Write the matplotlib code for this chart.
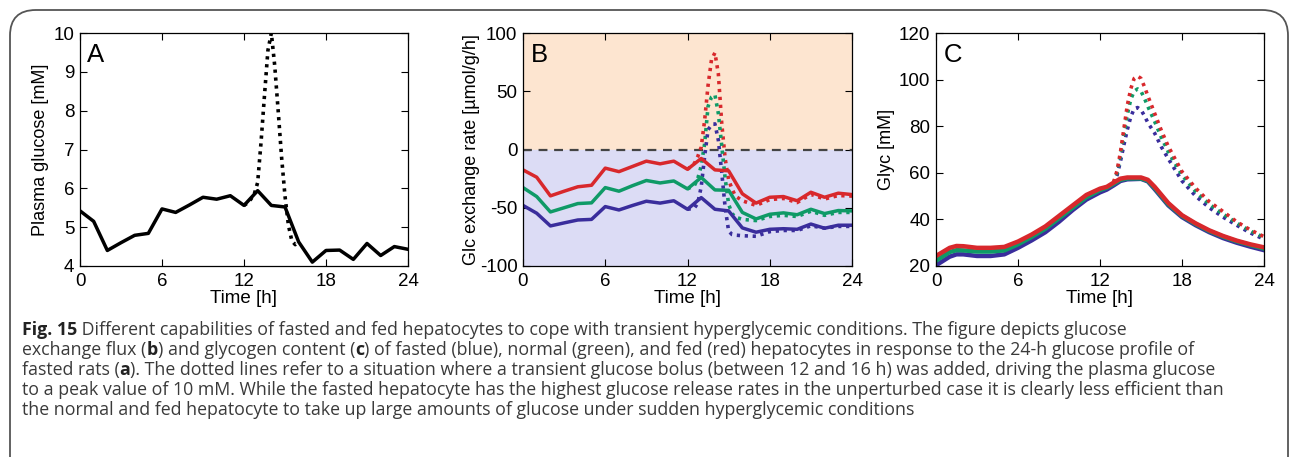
import numpy as np
import matplotlib.pyplot as plt
from matplotlib.patches import FancyBboxPatch

# hourly time grid
hours = np.arange(0, 25)

# A: plasma glucose [mM], basal profile and bolus
glc_basal = [5.42, 5.15, 4.40, 4.60, 4.79, 4.84, 5.47, 5.38, 5.57, 5.77, 5.72, 5.81, 5.56,
             5.94, 5.56, 5.52, 4.62, 4.10, 4.40, 4.41, 4.17, 4.58, 4.27, 4.50, 4.43]
bolus_t = [12.0, 12.25, 12.5, 12.75, 13.0, 13.25, 13.5, 13.75, 14.0, 14.25, 14.5, 14.75,
           15.0, 15.25, 15.5, 15.75, 16.0]
glc_bolus = [5.56, 5.62, 5.72, 5.85, 6.15, 7.20, 8.40, 9.55, 10.0, 9.15, 8.00, 6.80,
             5.80, 5.05, 4.65, 4.55, 4.62]

# B: glucose exchange rate [umol/g/h]
flux_fed = [-17.5, -23.8, -39.8, -35.8, -32.0, -30.7, -16.0, -19.0, -14.5, -10.0, -12.3, -10.0,
            -17.0, -7.7, -17.5, -18.3, -38.0, -46.0, -41.0, -40.4, -44.0, -36.7, -41.0, -37.5, -38.7]
flux_normal = [-32.7, -40.4, -53.6, -50.0, -46.4, -45.8, -32.7, -35.8, -31.0, -26.6, -28.7, -27.0,
               -33.8, -24.0, -34.7, -35.0, -54.0, -59.6, -55.6, -54.4, -56.0, -51.3, -55.0, -52.4, -52.7]
flux_fasted = [-48.0, -54.7, -65.6, -63.0, -60.5, -60.0, -49.0, -51.9, -48.0, -44.4, -46.0, -44.0,
               -51.3, -41.3, -51.3, -52.7, -67.3, -71.0, -68.5, -68.0, -68.5, -64.0, -67.6, -65.0, -65.0]

pert_t = [12.0, 12.5, 12.75, 13.0, 13.25, 13.5, 13.75, 14.0, 14.25, 14.5, 14.75, 15.0, 15.25,
          15.5, 16.0, 17.0, 18.0, 19.0, 20.0, 21.0, 22.0, 23.0, 24.0]
flux_fed_bolus = [-17.0, -12.0, -6.0, 2.0, 25.0, 55.0, 77.0, 83.0, 65.0, 22.0, -8.0, -26.0, -34.0,
                  -40.0, -44.0, -48.0, -43.0, -42.0, -45.5, -38.5, -42.5, -39.5, -40.0]
flux_normal_bolus = [-33.8, -31.0, -25.0, -14.0, 5.0, 37.0, 45.0, 47.0, 31.0, 3.0, -25.0, -47.0, -55.0,
                     -58.0, -60.0, -61.0, -57.5, -56.5, -57.5, -53.0, -56.5, -54.0, -54.0]
flux_fasted_bolus = [-51.3, -50.4, -46.0, -32.0, -6.0, 17.0, 21.0, 22.0, 8.0, -20.0, -50.0, -70.0, -73.0,
                     -73.5, -74.0, -74.5, -70.5, -69.5, -69.5, -65.5, -67.5, -66.0, -66.0]

# C: glycogen [mM]
glyc_t = [0, 1, 1.5, 2, 3, 4, 5, 6, 7, 8, 9, 10, 11, 12, 12.5, 13, 13.5, 14, 15, 15.5,
          16, 17, 18, 19, 20, 21, 22, 23, 24]
glyc_fed = [24.3, 27.8, 28.6, 28.5, 27.8, 27.8, 28.2, 30.5, 33.5, 37.0, 41.5, 46.0, 50.5, 53.2,
            54.0, 55.8, 57.5, 58.0, 58.0, 57.0, 54.0, 47.0, 41.8, 38.3, 35.3, 32.9, 30.9, 29.3, 28.0]
glyc_normal = [22.3, 26.0, 26.8, 26.7, 26.2, 26.2, 26.7, 29.3, 32.5, 36.0, 40.5, 45.0, 49.5, 52.6,
               53.6, 55.3, 57.0, 57.6, 57.6, 56.6, 53.5, 46.5, 41.5, 38.0, 35.0, 32.6, 30.6, 29.0, 27.5]
glyc_fasted = [20.3, 24.0, 25.0, 25.0, 24.3, 24.3, 25.0, 27.8, 31.0, 34.5, 39.0, 44.0, 48.5, 51.6,
               52.8, 54.6, 56.5, 57.2, 57.4, 56.3, 53.0, 46.0, 41.0, 37.5, 34.5, 32.0, 30.0, 28.3, 26.8]

glyc_pert_t = [13.0, 13.25, 13.5, 13.75, 14.0, 14.25, 14.5, 14.75, 15.0, 15.25, 15.5, 16.0, 16.5,
               17.0, 18.0, 19.0, 20.0, 21.0, 22.0, 23.0, 24.0]
glyc_fed_bolus = [56.0, 61.0, 69.0, 79.0, 89.0, 96.0, 100.5, 101.5, 100.5, 97.0, 93.0, 85.5, 78.0,
                  71.3, 60.5, 53.4, 47.6, 43.4, 39.0, 35.5, 32.6]
glyc_normal_bolus = [55.8, 60.0, 67.5, 76.5, 85.0, 91.5, 95.0, 96.0, 95.0, 92.0, 88.5, 82.0, 75.0,
                     69.0, 59.0, 52.0, 46.5, 42.3, 38.5, 35.0, 32.3]
glyc_fasted_bolus = [55.5, 59.0, 65.0, 72.0, 78.5, 84.0, 87.5, 88.0, 87.0, 84.5, 81.5, 77.0, 71.0,
                     66.0, 56.5, 50.0, 45.0, 41.0, 37.5, 34.2, 31.5]

red = '#d8282c'
green = '#0f9a67'
blue = '#3a2d9c'
dots = (0.9, 1.3)

plt.rcParams['font.family'] = ['Liberation Sans', 'DejaVu Sans']
plt.rcParams['font.size'] = 13
plt.rcParams['axes.unicode_minus'] = False

W, H = 1293, 457
fig = plt.figure(figsize=(W / 100, H / 100), dpi=100)

# rounded frame around the figure
frame = FancyBboxPatch((10 / W, -0.2), 1278 / W, 1.2 - 10 / H,
                       boxstyle='round,pad=0,rounding_size=0.02', transform=fig.transFigure,
                       facecolor='none', edgecolor='#555555', linewidth=1.3, mutation_aspect=2.8)
fig.patches.append(frame)


def make_axes(left, right):
    ax = fig.add_axes([left / W, 1 - 266 / H, (right - left) / W, (266 - 33) / H])
    ax.set_xlim(0, 24)
    ax.set_xticks([0, 6, 12, 18, 24])
    ax.tick_params(direction='in', top=True, right=True, length=5, width=0.8, labelsize=13.5)
    ax.tick_params(axis='x', pad=5)
    ax.tick_params(axis='y', pad=4)
    ax.set_xlabel('Time [h]', fontsize=13.5, labelpad=0)
    for s in ax.spines.values():
        s.set_linewidth(0.9)
    return ax


# A
axA = make_axes(80, 408)
axA.plot(bolus_t, glc_bolus, color='black', linestyle=(0, dots), linewidth=2.6)
axA.plot(hours, glc_basal, color='black', linewidth=2.5)
axA.set_ylim(4, 10)
axA.set_yticks(range(4, 11))
axA.set_ylabel('Plasma glucose [mM]', labelpad=3)
axA.text(0.02, 0.955, 'A', transform=axA.transAxes, fontsize=18.5, va='top', ha='left')

# B
axB = make_axes(523, 852)
axB.axhspan(0, 100, color='#fde5d0', zorder=0)
axB.axhspan(-100, 0, color='#dcdcf5', zorder=0)
axB.axhline(0, color='#444444', linestyle='--', linewidth=1.6, dashes=(4, 3))
for tvals, col in [(flux_fed_bolus, red), (flux_normal_bolus, green), (flux_fasted_bolus, blue)]:
    axB.plot(pert_t, tvals, color=col, linestyle=(0, dots), linewidth=2.6)
for vals, col in [(flux_fed, red), (flux_normal, green), (flux_fasted, blue)]:
    axB.plot(hours, vals, color=col, linewidth=2.5)
axB.set_ylim(-100, 100)
axB.set_yticks([-100, -50, 0, 50, 100])
axB.set_ylabel('Glc exchange rate [\u00b5mol/g/h]', labelpad=0)
axB.text(0.025, 0.955, 'B', transform=axB.transAxes, fontsize=18.5, va='top', ha='left')

# C
axC = make_axes(936, 1264)
for tvals, col in [(glyc_fasted_bolus, blue), (glyc_normal_bolus, green), (glyc_fed_bolus, red)]:
    axC.plot(glyc_pert_t, tvals, color=col, linestyle=(0, dots), linewidth=2.6)
for vals, col in [(glyc_fasted, blue), (glyc_normal, green), (glyc_fed, red)]:
    axC.plot(glyc_t, vals, color=col, linewidth=3.2)
axC.set_ylim(20, 120)
axC.set_yticks(range(20, 121, 20))
axC.set_ylabel('Glyc [mM]', labelpad=3)
axC.text(0.025, 0.955, 'C', transform=axC.transAxes, fontsize=18.5, va='top', ha='left')

# caption, written as runs of (text, bold)
caption = [
    [('Fig. 15', True), (' Different capabilities of fasted and fed hepatocytes to cope with transient '
                         'hyperglycemic conditions. The figure depicts glucose', False)],
    [('exchange flux (', False), ('b', True), (') and glycogen content (', False), ('c', True),
     (') of fasted (blue), normal (green), and fed (red) hepatocytes in response to the 24-h '
      'glucose profile of', False)],
    [('fasted rats (', False), ('a', True), ('). The dotted lines refer to a situation where a transient '
                                             'glucose bolus (between 12 and 16 h) was added, driving the '
                                             'plasma glucose', False)],
    [('to a peak value of 10 mM. While the fasted hepatocyte has the highest glucose release rates in '
      'the unperturbed case it is clearly less efficient than', False)],
    [('the normal and fed hepatocyte to take up large amounts of glucose under sudden hyperglycemic '
      'conditions', False)],
]
cap_font = ['Open Sans', 'DejaVu Sans']
fig.canvas.draw()
renderer = fig.canvas.get_renderer()
for i, runs in enumerate(caption):
    y = 1 - (330 + i * 20) / H
    x = 22
    for txt, bold in runs:
        t = fig.text(x / W, y, txt, fontsize=12.75, fontweight='bold' if bold else 'normal',
                     color='#222222' if bold else '#3a3a3a', family=cap_font, va='center')
        x = t.get_window_extent(renderer).x1

fig.savefig('out.png', dpi=100)
